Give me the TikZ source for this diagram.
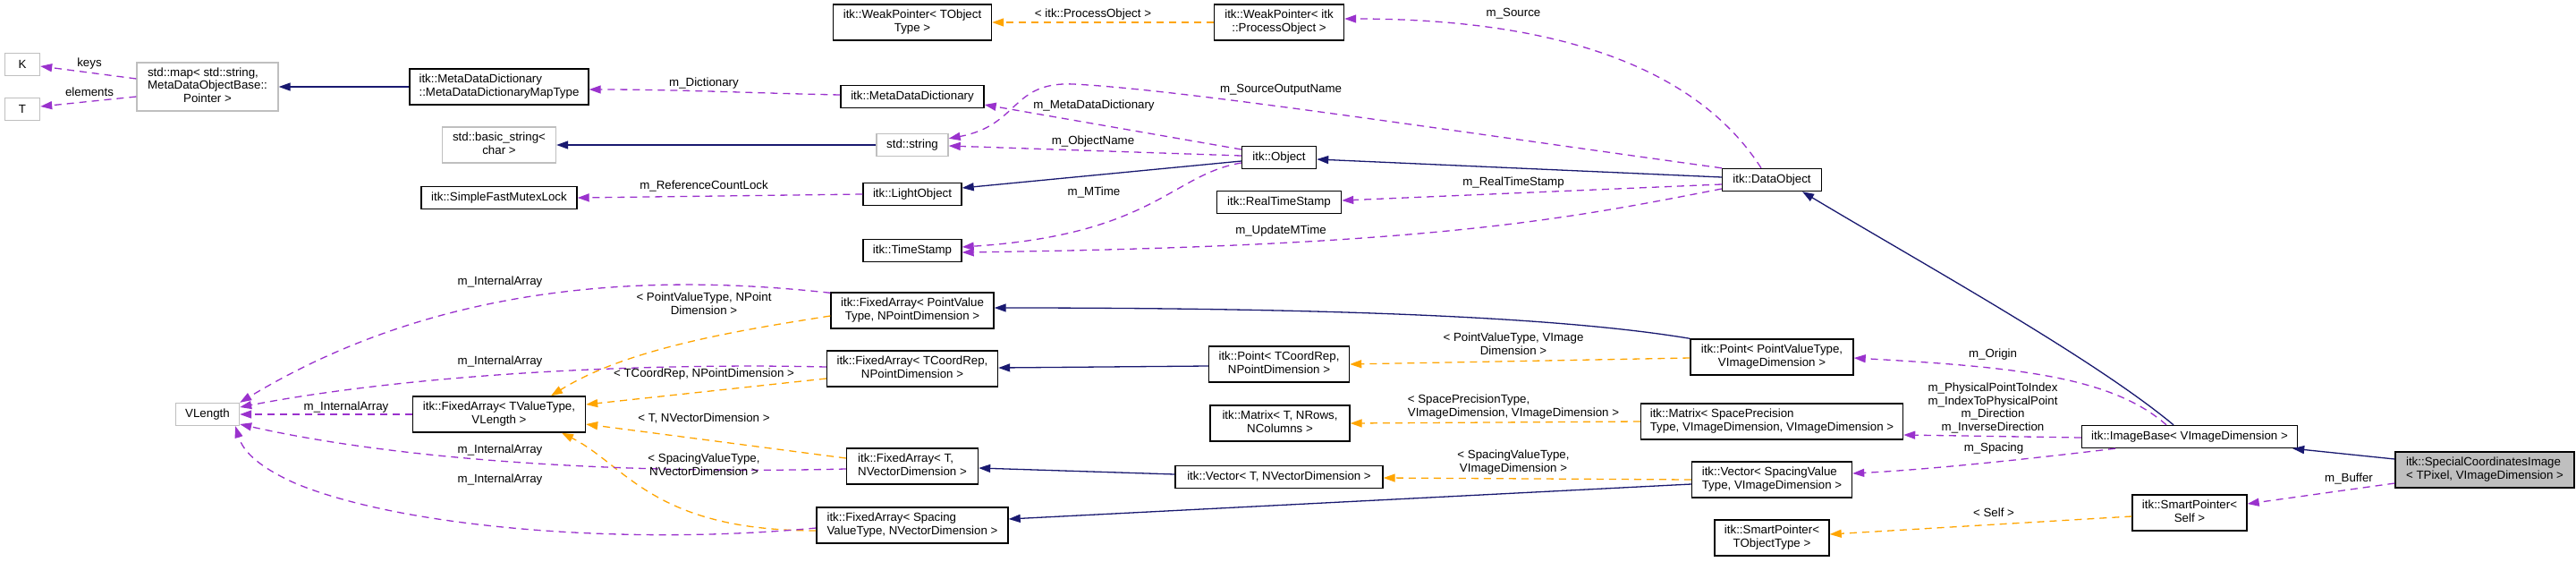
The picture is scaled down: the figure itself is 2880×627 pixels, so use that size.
\documentclass[tikz,border=0pt]{standalone}
\usepackage{fontspec}
\setmainfont{Liberation Sans}
\usetikzlibrary{arrows.meta,calc}
\definecolor{purp}{HTML}{9A32CD}
\definecolor{navy}{HTML}{191970}
\definecolor{orng}{HTML}{FFA500}
\definecolor{grayb}{HTML}{BFBFBF}
\newcommand\dlab[2]{\begin{tabular}{@{}l@{}}#1\\\multicolumn{1}{@{}c@{}}{#2}\end{tabular}}
\newcommand\tlab[3]{\begin{tabular}{@{}l@{}}#1\\#2\\\multicolumn{1}{@{}c@{}}{#3}\end{tabular}}
\begin{document}
\begin{tikzpicture}[x=1pt,y=-1pt,font=\fontsize{13.3}{14.5}\selectfont,
  cbox/.style={draw=black,line width=1.4pt,fill=white,inner sep=0pt,minimum height=25pt},
  gbox/.style={cbox,draw=grayb},
  tip/.style={-{Triangle[length=13pt,width=9pt]}},
  use/.style={draw=purp,line width=1.3pt,dash pattern=on 8pt off 6pt,tip},
  inh/.style={draw=navy,line width=1.3pt,tip},
  tpl/.style={draw=orng,line width=1.3pt,dash pattern=on 8pt off 6pt,tip},
  lab/.style={inner sep=0pt,align=center}]
\fill[white] (0,0) rectangle (2880,627);
\useasboundingbox (0,0) rectangle (2880,627);

% ---------- nodes ----------
\node[gbox,minimum width=39pt] (K) at (25,72) {K};
\node[gbox,minimum width=39pt] (T) at (25,122) {T};
\node[gbox,minimum width=158pt,minimum height=54pt] (map) at (232,97) {\tlab{std::map< std::string,}{MetaDataObjectBase::}{Pointer >}};
\node[gbox,minimum width=71pt] (vlen) at (232,463) {VLength};
\node[cbox,minimum width=200pt,minimum height=40pt] (mapType) at (558,97) {\dlab{itk::MetaDataDictionary}{::MetaDataDictionaryMapType}};
\node[gbox,minimum width=127pt,minimum height=40pt] (bstr) at (558,162) {\dlab{std::basic\_string<}{char >}};
\node[cbox,minimum width=174pt] (sfml) at (558,221) {itk::SimpleFastMutexLock};
\node[cbox,minimum width=193pt,minimum height=40pt] (fatv) at (558,463) {\dlab{itk::FixedArray< TValueType,}{VLength >}};
\node[cbox,minimum width=177pt,minimum height=40pt] (wpT) at (1020,25) {\dlab{itk::WeakPointer< TObject}{Type >}};
\node[cbox,minimum width=160pt] (mdd) at (1020,108) {itk::MetaDataDictionary};
\node[gbox,minimum width=80pt] (str) at (1020,162) {std::string};
\node[cbox,minimum width=110pt] (light) at (1020,217) {itk::LightObject};
\node[cbox,minimum width=110pt] (ts) at (1020,280) {itk::TimeStamp};
\node[cbox,minimum width=182pt,minimum height=40pt] (faPV) at (1020,347) {\dlab{itk::FixedArray< PointValue}{Type, NPointDimension >}};
\node[cbox,minimum width=191pt,minimum height=40pt] (faTC) at (1020,412) {\dlab{itk::FixedArray< TCoordRep,}{NPointDimension >}};
\node[cbox,minimum width=147pt,minimum height=40pt] (faT) at (1020,521) {\dlab{itk::FixedArray< T,}{NVectorDimension >}};
\node[cbox,minimum width=214pt,minimum height=40pt] (faSV) at (1020,587) {\dlab{itk::FixedArray< Spacing}{ValueType, NVectorDimension >}};
\node[cbox,minimum width=145pt,minimum height=40pt] (wpPO) at (1430,25) {\dlab{itk::WeakPointer< itk}{::ProcessObject >}};
\node[cbox,minimum width=83pt] (obj) at (1430,176) {itk::Object};
\node[cbox,minimum width=139pt] (rts) at (1430,226) {itk::RealTimeStamp};
\node[cbox,minimum width=157pt,minimum height=40pt] (ptTC) at (1430,407) {\dlab{itk::Point< TCoordRep,}{NPointDimension >}};
\node[cbox,minimum width=156pt,minimum height=40pt] (mtx) at (1431,473) {\dlab{itk::Matrix< T, NRows,}{NColumns >}};
\node[cbox,minimum width=232pt] (vecT) at (1430,533) {itk::Vector< T, NVectorDimension >};
\node[cbox,minimum width=111pt] (dobj) at (1981,201) {itk::DataObject};
\node[cbox,minimum width=182pt,minimum height=40pt] (ptPV) at (1981,399) {\dlab{itk::Point< PointValueType,}{VImageDimension >}};
\node[cbox,minimum width=293pt,minimum height=40pt] (mtxSP) at (1981,471) {\dlab{itk::Matrix< SpacePrecision}{Type, VImageDimension, VImageDimension >}};
\node[cbox,minimum width=179pt,minimum height=40pt] (vecSV) at (1981,536) {\dlab{itk::Vector< SpacingValue}{Type, VImageDimension >}};
\node[cbox,minimum width=128pt,minimum height=40pt] (spT) at (1981,601) {\dlab{itk::SmartPointer<}{TObjectType >}};
\node[cbox,minimum width=241pt] (ib) at (2448,488) {itk::ImageBase< VImageDimension >};
\node[cbox,minimum width=128pt,minimum height=40pt] (spS) at (2448,573) {\dlab{itk::SmartPointer<}{Self >}};
\node[cbox,fill=grayb,minimum width=200pt,minimum height=40pt] (sci) at (2778,525) {\dlab{itk::SpecialCoordinatesImage}{< TPixel, VImageDimension >}};

% ---------- edges ----------
\draw[use] ($(map.west)+(0,-9)$) -- ($(K.east)+(0,2)$);
\draw[use] ($(map.west)+(0,11)$) -- ($(T.east)+(0,-3)$);
\draw[inh] (mapType.west) -- (map.east);
\draw[use] ($(mdd.west)+(0,-2)$) .. controls (840,104) and (760,100) .. ($(mapType.east)+(0,3)$);
\draw[inh] (str.west) -- (bstr.east);
\draw[use] (light.west) -- (sfml.east);
\draw[use] ($(obj.west)+(0,-9)$) -- ($(mdd.east)+(0,9)$);
\draw[use] ($(obj.west)+(0,-2)$) -- ($(str.east)+(0,1)$);
\draw[use] (dobj.north west) .. controls (1600,143) and (1320,100) .. (1200,94) .. controls (1130,91) and (1140,140) .. ($(str.north east)+(0,6)$);
\draw[inh] ($(obj.west)+(0,4)$) -- ($(light.east)+(0,-7)$);
\draw[use] ($(obj.west)+(0,6)$) .. controls (1310,195) and (1290,262) .. ($(ts.east)+(0,-4)$);
\draw[inh] ($(dobj.west)+(0,-3)$) -- ($(obj.east)+(0,2)$);
\draw[use] ($(dobj.west)+(0,5)$) -- ($(rts.east)+(0,-2)$);
\draw[use] ($(dobj.west)+(0,10)$) .. controls (1750,245) and (1600,275) .. ($(ts.east)+(0,2)$);
\draw[use] ($(dobj.north)+(-12,0)$) .. controls (1900,80) and (1750,21) .. ($(wpPO.east)+(0,-4)$);
\draw[tpl] (wpPO.west) -- (wpT.east);
\draw[inh] ($(ib.north)+(-18,0)$) .. controls (2340,400) and (2150,295) .. ($(dobj.south)+(34,0)$);
\draw[use] ($(ib.north)+(-26,0)$) .. controls (2360,420) and (2250,410) .. ($(ptPV.east)+(0,1)$);
\draw[use] ($(ib.west)+(0,1)$) -- ($(mtxSP.east)+(0,15)$);
\draw[use] ($(ib.south)+(-83,0)$) .. controls (2250,515) and (2150,525) .. ($(vecSV.east)+(0,-7)$);
\draw[inh] ($(sci.west)+(0,-12)$) -- ($(ib.south east)+(-6,0)$);
\draw[use] ($(sci.west)+(0,15)$) -- ($(spS.east)+(0,-10)$);
\draw[tpl] ($(spS.west)+(0,4)$) -- ($(spT.east)+(0,-4)$);
\draw[inh] (ptPV.north west) .. controls (1750,355) and (1500,344) .. ($(faPV.east)+(0,-3)$);
\draw[tpl] ($(ptPV.west)+(0,1)$) -- (ptTC.east);
\draw[inh] ($(ptTC.west)+(0,2)$) -- ($(faTC.east)+(0,-1)$);
\draw[tpl] (mtxSP.west) -- (mtx.east);
\draw[tpl] (vecSV.west) -- ($(vecT.east)+(0,1)$);
\draw[inh] ($(vecSV.west)+(0,5)$) -- ($(faSV.east)+(0,-7)$);
\draw[inh] ($(vecT.west)+(0,-3)$) -- ($(faT.east)+(0,2)$);
\draw[tpl] ($(faPV.west)+(0,6)$) .. controls (820,370) and (700,390) .. ($(fatv.north)+(58,0)$);
\draw[tpl] ($(faTC.west)+(0,11)$) -- ($(fatv.east)+(0,-11)$);
\draw[tpl] ($(faT.west)+(0,-9)$) -- ($(fatv.east)+(0,11)$);
\draw[tpl] ($(faSV.west)+(0,6)$) .. controls (730,593) and (700,520) .. ($(fatv.south)+(70,0)$);
\draw[use] (fatv.west) -- (vlen.east);
\draw[use] ($(faPV.north west)+(0,1)$) .. controls (700,302) and (475,325) .. (vlen.north east);
\draw[use] ($(faTC.west)+(0,-2)$) .. controls (700,405) and (450,420) .. ($(vlen.east)+(0,-8)$);
\draw[use] ($(faT.west)+(0,3)$) .. controls (700,530) and (450,515) .. ($(vlen.east)+(0,11)$);
\draw[use] ($(faSV.west)+(0,3)$) .. controls (700,610) and (450,590) .. (330,540) .. controls (290,522) and (272,505) .. ($(vlen.south east)+(-5,0)$);

% ---------- labels ----------
\node[lab] (l1) at (100,71) {keys};
\node[lab] (l2) at (100,103) {elements};
\node[lab] (l3) at (787,93) {m\_Dictionary};
\node[lab] (l4) at (787,208) {m\_ReferenceCountLock};
\node[lab] (l5) at (1223,118) {m\_MetaDataDictionary};
\node[lab] (l6) at (1222,158) {m\_ObjectName};
\node[lab] (l7) at (1432,100) {m\_SourceOutputName};
\node[lab] (l8) at (1223,215) {m\_MTime};
\node[lab] (l9) at (1692,204) {m\_RealTimeStamp};
\node[lab] (l10) at (1432,258) {m\_UpdateMTime};
\node[lab] (l11) at (1692,15) {m\_Source};
\node[lab] (l12) at (1222,16) {< itk::ProcessObject >};
\node[lab] (l13) at (2228,396) {m\_Origin};
\node[lab] (l14) at (2228,456) {m\_PhysicalPointToIndex\\m\_IndexToPhysicalPoint\\m\_Direction\\m\_InverseDirection};
\node[lab] (l15) at (2229,501) {m\_Spacing};
\node[lab] (l16) at (2626,535) {m\_Buffer};
\node[lab] (l17) at (2229,573) {< Self >};
\node[lab] (l18) at (1692,386) {\dlab{< PointValueType, VImage}{Dimension >}};
\node[lab] (l19) at (1692,455) {\dlab{< SpacePrecisionType,}{VImageDimension, VImageDimension >}};
\node[lab] (l20) at (1692,517) {\dlab{< SpacingValueType,}{VImageDimension >}};
\node[lab] (l21) at (787,341) {\dlab{< PointValueType, NPoint}{Dimension >}};
\node[lab] (l22) at (787,418) {< TCoordRep, NPointDimension >};
\node[lab] (l23) at (787,468) {< T, NVectorDimension >};
\node[lab] (l24) at (787,521) {\dlab{< SpacingValueType,}{NVectorDimension >}};
\node[lab] (l25) at (387,455) {m\_InternalArray};
\node[lab] (l26) at (559,315) {m\_InternalArray};
\node[lab] (l27) at (559,404) {m\_InternalArray};
\node[lab] (l28) at (559,503) {m\_InternalArray};
\node[lab] (l29) at (559,536) {m\_InternalArray};
\end{tikzpicture}
\end{document}
